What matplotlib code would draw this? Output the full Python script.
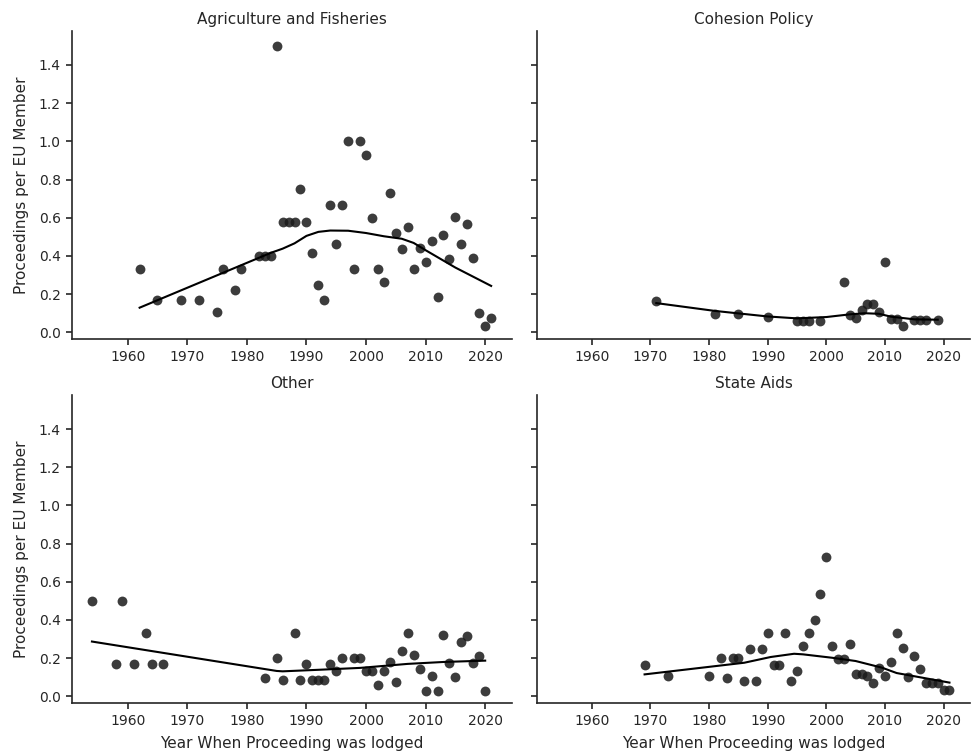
import matplotlib
matplotlib.use("Agg")
import matplotlib.pyplot as plt

# Agriculture and Fisheries
agri_years = [1962, 1965, 1969, 1972, 1975, 1976, 1978, 1979, 1982, 1983, 1984, 1985,
              1986, 1987, 1988, 1989, 1990, 1991, 1992, 1993, 1994, 1995, 1996, 1997,
              1998, 1999, 2000, 2001, 2002, 2003, 2004, 2005, 2006, 2007, 2008, 2009,
              2010, 2011, 2012, 2013, 2014, 2015, 2016, 2017, 2018, 2019, 2020, 2021]
agri_vals = [0.333, 0.167, 0.167, 0.167, 0.108, 0.333, 0.219, 0.333, 0.4, 0.4, 0.4, 1.5,
             0.58, 0.58, 0.58, 0.75, 0.58, 0.414, 0.25, 0.167, 0.667, 0.464, 0.667, 1.0,
             0.333, 1.0, 0.929, 0.6, 0.333, 0.264, 0.732, 0.52, 0.438, 0.553, 0.333, 0.443,
             0.369, 0.478, 0.184, 0.51, 0.386, 0.603, 0.464, 0.567, 0.388, 0.103, 0.033, 0.073]
agri_fit_x = [1962, 1984, 1986, 1988, 1990, 1992, 1994, 1997, 2000, 2003, 2006, 2008, 2010, 2015, 2021]
agri_fit_y = [0.129, 0.416, 0.438, 0.466, 0.505, 0.526, 0.533, 0.532, 0.52, 0.503, 0.49, 0.468, 0.43, 0.339, 0.243]

# Cohesion Policy
coh_years = [1971, 1981, 1985, 1990, 1995, 1996, 1997, 1999, 2003, 2004, 2005, 2006,
             2007, 2008, 2009, 2010, 2011, 2012, 2013, 2015, 2016, 2017, 2019]
coh_vals = [0.162, 0.096, 0.096, 0.08, 0.059, 0.059, 0.059, 0.059, 0.261, 0.092, 0.077, 0.117,
            0.146, 0.146, 0.106, 0.367, 0.071, 0.071, 0.031, 0.066, 0.066, 0.066, 0.066]
coh_fit_x = [1971, 1981, 1990, 1995, 2000, 2004, 2006.5, 2009, 2011, 2015, 2019]
coh_fit_y = [0.153, 0.112, 0.083, 0.073, 0.08, 0.094, 0.1, 0.097, 0.082, 0.068, 0.066]

# Other
oth_years = [1954, 1958, 1959, 1961, 1963, 1964, 1966, 1983, 1985, 1986, 1988, 1989,
             1990, 1991, 1992, 1993, 1994, 1995, 1996, 1998, 1999, 2000, 2001, 2002,
             2003, 2004, 2005, 2006, 2007, 2008, 2009, 2010, 2011, 2012, 2013, 2014,
             2015, 2016, 2017, 2018, 2019, 2020]
oth_vals = [0.5, 0.167, 0.5, 0.167, 0.333, 0.167, 0.167, 0.095, 0.2, 0.083, 0.333, 0.083,
            0.167, 0.083, 0.083, 0.083, 0.167, 0.133, 0.2, 0.2, 0.2, 0.133, 0.133, 0.06,
            0.133, 0.18, 0.075, 0.236, 0.333, 0.215, 0.145, 0.03, 0.105, 0.03, 0.322, 0.177,
            0.102, 0.282, 0.317, 0.177, 0.212, 0.03]
oth_fit_x = [1954, 1985, 1986, 1992, 1999, 2007, 2013, 2020]
oth_fit_y = [0.287, 0.133, 0.131, 0.139, 0.149, 0.17, 0.18, 0.187]

# State Aids
sa_years = [1969, 1973, 1980, 1982, 1983, 1984, 1985, 1986, 1987, 1988, 1989, 1990,
            1991, 1992, 1993, 1994, 1995, 1996, 1997, 1998, 1999, 2000, 2001, 2002,
            2003, 2004, 2005, 2006, 2007, 2008, 2009, 2010, 2011, 2012, 2013, 2014,
            2015, 2016, 2017, 2018, 2019, 2020, 2021]
sa_vals = [0.162, 0.106, 0.106, 0.2, 0.098, 0.2, 0.2, 0.08, 0.25, 0.08, 0.25, 0.333,
           0.162, 0.162, 0.333, 0.08, 0.131, 0.262, 0.333, 0.4, 0.534, 0.73, 0.262, 0.197,
           0.197, 0.272, 0.115, 0.115, 0.106, 0.072, 0.148, 0.106, 0.181, 0.333, 0.253, 0.101,
           0.213, 0.143, 0.068, 0.068, 0.068, 0.031, 0.031]
sa_fit_x = [1969, 1986, 1990.5, 1994.5, 1996, 2001, 2005, 2009.5, 2012, 2021]
sa_fit_y = [0.115, 0.176, 0.206, 0.223, 0.22, 0.202, 0.185, 0.15, 0.122, 0.072]

panels = [
    ("Agriculture and Fisheries", agri_years, agri_vals, agri_fit_x, agri_fit_y),
    ("Cohesion Policy", coh_years, coh_vals, coh_fit_x, coh_fit_y),
    ("Other", oth_years, oth_vals, oth_fit_x, oth_fit_y),
    ("State Aids", sa_years, sa_vals, sa_fit_x, sa_fit_y),
]

text_color = "#262626"
plt.rcParams["font.family"] = "DejaVu Sans"
plt.rcParams["text.color"] = text_color
plt.rcParams["axes.labelcolor"] = text_color
plt.rcParams["xtick.color"] = text_color
plt.rcParams["ytick.color"] = text_color

fig = plt.figure(figsize=(9.73, 7.54), dpi=100)

# axes boxes in figure fractions [left, bottom, width, height]
boxes = [
    [0.0740, 0.5504, 0.4522, 0.4085],
    [0.5519, 0.5504, 0.4450, 0.4085],
    [0.0740, 0.0676, 0.4522, 0.4085],
    [0.5519, 0.0676, 0.4450, 0.4085],
]

for i, (title, xs, ys, fx, fy) in enumerate(panels):
    ax = fig.add_axes(boxes[i])
    ax.scatter(xs, ys, s=50, color="#1a1a1a", alpha=0.85, linewidths=0, zorder=2)
    ax.plot(fx, fy, color="black", lw=1.5, zorder=3)
    ax.set_xlim(1950.65, 2024.5)
    ax.set_ylim(-0.035, 1.578)
    ax.set_xticks([1960, 1970, 1980, 1990, 2000, 2010, 2020])
    ax.set_yticks([0.0, 0.2, 0.4, 0.6, 0.8, 1.0, 1.2, 1.4])
    ax.set_title(title, fontsize=11, color=text_color, pad=5)
    for side in ["top", "right"]:
        ax.spines[side].set_visible(False)
    for side in ["left", "bottom"]:
        ax.spines[side].set_color(text_color)
        ax.spines[side].set_linewidth(1.2)
    ax.tick_params(length=4.5, width=1.2, labelsize=10)
    if i % 2 == 1:
        ax.tick_params(labelleft=False)
    else:
        ax.set_ylabel("Proceedings per EU Member", fontsize=11, labelpad=7)
    if i < 2:
        ax.tick_params(labelbottom=True)
    else:
        ax.set_xlabel("Year When Proceeding was lodged", fontsize=11, labelpad=6)

fig.savefig("out.png", dpi=100)
